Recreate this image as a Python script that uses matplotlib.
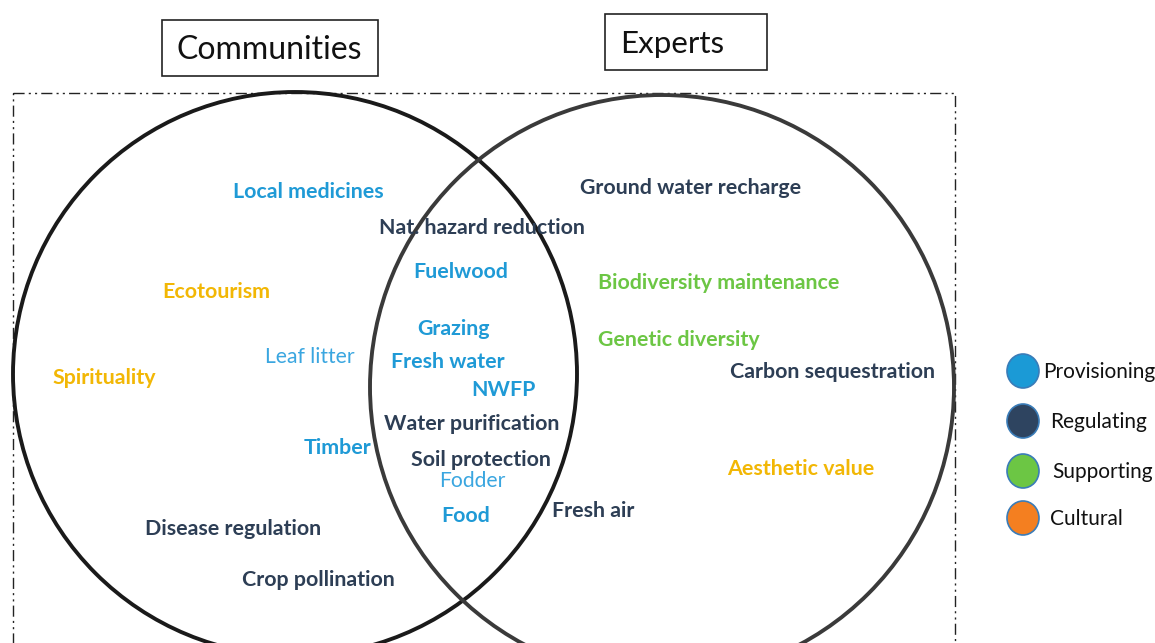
import matplotlib.pyplot as plt
from matplotlib.patches import Circle, Ellipse, Rectangle

# services shown in the diagram, with their category
services = ["Local medicines", "Nat. hazard reduction", "Ground water recharge", "Fuelwood",
            "Ecotourism", "Biodiversity maintenance", "Grazing", "Genetic diversity",
            "Leaf litter", "Fresh water", "Spirituality", "Carbon sequestration", "NWFP",
            "Water purification", "Timber", "Soil protection", "Aesthetic value", "Fodder",
            "Food", "Fresh air", "Disease regulation", "Crop pollination"]
service_type = ["P", "R", "R", "P", "C", "S", "P", "S", "P", "P", "C", "R", "P",
                "R", "P", "R", "C", "P", "P", "R", "R", "R"]
bold = [True, True, True, True, True, True, True, True, False, True, True, True, True,
        True, True, True, True, False, True, True, True, True]

groups = ["Communities", "Experts"]
legend_labels = ["Provisioning", "Regulating", "Supporting", "Cultural"]

# layout (pixel positions of label centres)
pos = [(308, 190), (482, 226), (691, 186), (461, 270), (216, 290), (719, 281),
       (454, 327), (679, 338), (310, 355), (448, 360), (104, 376), (832, 370),
       (503, 388), (472, 422), (337, 446), (481, 458), (801, 467), (472, 479),
       (466, 514), (593, 509), (233, 527), (318, 578)]

text_col = {"P": "#1f9ad6", "R": "#2d3e55", "S": "#6cc644", "C": "#f2b705"}
light_blue = "#3aa6e0"
legend_col = ["#1b9ad6", "#2e4460", "#6cc644", "#f47f20"]

plt.rcParams['font.family'] = ['Lato', 'DejaVu Sans']

fig = plt.figure(figsize=(11.55, 6.43), dpi=100)
ax = fig.add_axes([0, 0, 1, 1])
ax.set_xlim(0, 1155)
ax.set_ylim(643, 0)
ax.axis("off")

# dash-dot outer frame
ax.add_patch(Rectangle((13, 93), 942, 600, fill=False, lw=1.0, ec="#222222",
                       linestyle=(0, (8, 3, 1.5, 3, 1.5, 3))))

# venn circles
ax.add_patch(Circle((295, 374), 282, fill=False, lw=2.8, ec="#1a1a1a"))
ax.add_patch(Circle((662, 387), 292, fill=False, lw=2.8, ec="#3a3a3a"))

# group title boxes
ax.add_patch(Rectangle((162, 20), 216, 56, fill=False, lw=1.2, ec="#222222"))
ax.text(269, 50, groups[0], ha="center", va="center", fontsize=23, color="#111111")
ax.add_patch(Rectangle((605, 14), 162, 56, fill=False, lw=1.2, ec="#222222"))
ax.text(620, 44, groups[1], ha="left", va="center", fontsize=22.5, color="#111111")

for name, t, b, (x, y) in zip(services, service_type, bold, pos):
    c = text_col[t] if b else light_blue
    ax.text(x, y + 2, name, ha="center", va="center", fontsize=15.4 if b else 15.2,
            fontweight="bold" if b else "normal", color=c)

# legend
leg_y = [371, 421, 471, 518]
leg_x = [1043, 1050, 1052, 1050]
for lab, col, y, lx in zip(legend_labels, legend_col, leg_y, leg_x):
    ax.add_patch(Ellipse((1023, y), 32, 34, fc=col, ec="#3a7cb8", lw=1.2))
    ax.text(lx, y + 1, lab, ha="left", va="center", fontsize=15, color="#111111")

fig.savefig("out.png", dpi=100)
